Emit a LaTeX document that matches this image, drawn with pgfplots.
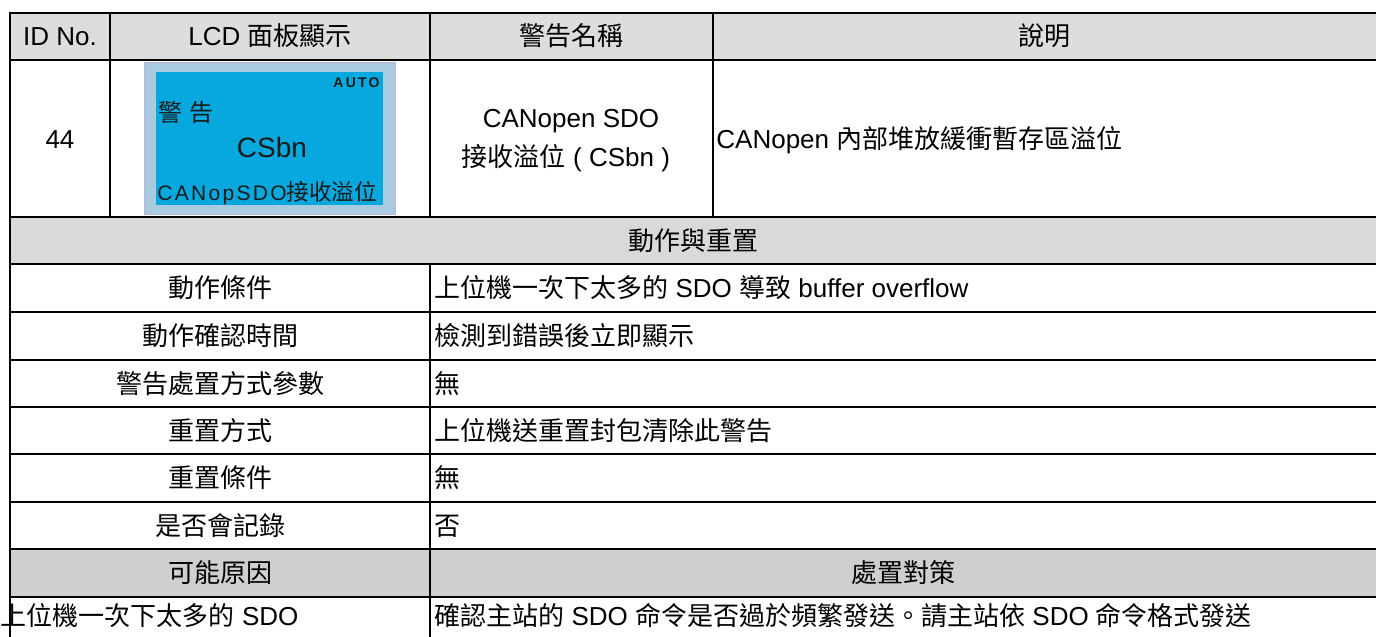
\documentclass[border=0pt]{standalone}
\usepackage{fontspec}
\setmainfont{Liberation Sans}
\newfontfamily\cjk{Noto Sans CJK TC}
\newfontfamily\lcdlat[LetterSpace=11]{Liberation Sans}
\newfontfamily\autofont[LetterSpace=16]{Liberation Sans Bold}
\usepackage{pgfplots}
\pgfplotsset{compat=1.18}
\definecolor{hdrgray}{HTML}{DDDDDD}
\definecolor{secgray}{HTML}{D9D9D9}
\definecolor{causegray}{HTML}{D0CECE}
\definecolor{lcdouter}{HTML}{A8CBDF}
\definecolor{lcdedge}{HTML}{BCB4DE}
\definecolor{lcdinner}{HTML}{06A8DE}
\definecolor{lcdtext}{HTML}{1A1A1A}
\newcommand\C[1]{{\cjk #1}}
\begin{document}
\fontsize{13bp}{15bp}\selectfont
\begin{tikzpicture}
\begin{axis}[name=ax, hide axis, scale only axis, width=688bp, height=318.5bp,
  xmin=0, xmax=1376, ymin=0, ymax=637, y dir=reverse, clip=true]
\addplot[draw=none] coordinates {(0,0)};
% fills
\fill[hdrgray] (axis cs:10,13) rectangle (axis cs:1376,60);
\fill[secgray] (axis cs:10,217) rectangle (axis cs:1376,264);
\fill[causegray] (axis cs:10,549) rectangle (axis cs:1376,597);
% LCD panel
\filldraw[fill=lcdouter, draw=lcdedge, line width=0.5bp] (axis cs:144,63) rectangle (axis cs:395,214);
\fill[lcdinner] (axis cs:156,72) rectangle (axis cs:383,205);
% grid lines
\begin{scope}[line width=1bp, line cap=rect]
\draw (axis cs:10,13) -- (axis cs:1376,13);
\draw (axis cs:10,60) -- (axis cs:1376,60);
\draw (axis cs:10,217) -- (axis cs:1376,217);
\draw (axis cs:10,264) -- (axis cs:1376,264);
\draw (axis cs:10,312) -- (axis cs:1376,312);
\draw (axis cs:10,360) -- (axis cs:1376,360);
\draw (axis cs:10,407) -- (axis cs:1376,407);
\draw (axis cs:10,454) -- (axis cs:1376,454);
\draw (axis cs:10,502) -- (axis cs:1376,502);
\draw (axis cs:10,549) -- (axis cs:1376,549);
\draw (axis cs:10,597) -- (axis cs:1376,597);
\draw (axis cs:10,13) -- (axis cs:10,640);
\draw (axis cs:110,13) -- (axis cs:110,217);
\draw (axis cs:430,13) -- (axis cs:430,217);
\draw (axis cs:430,264) -- (axis cs:430,640);
\draw (axis cs:713,13) -- (axis cs:713,217);
\end{scope}
% header
\begin{scope}[every node/.style={inner sep=0pt, anchor=base}]
\node at (axis cs:60,46) {ID No.};
\node at (axis cs:270,46) {LCD \C{面板顯示}};
\node at (axis cs:571,46) {\C{警告名稱}};
\node at (axis cs:1044,46) {\C{說明}};
% row 44
\node at (axis cs:60,148) {44};
\node at (axis cs:571,127.5) {CANopen SDO};
\node at (axis cs:566,166.5) {\C{接收溢位} ( CSbn )};
\node[anchor=base west] at (axis cs:716,148) {CANopen \C{內部堆放緩衝暫存區溢位}};
% LCD texts
\node[anchor=base east, text=lcdtext] at (axis cs:380,87) {\fontsize{7bp}{8bp}\autofont AUTO};
\node[anchor=base west, text=lcdtext] at (axis cs:158,121) {\fontsize{12bp}{13bp}\cjk 警\hspace{3.5bp}告};
\node[text=lcdtext] at (axis cs:272,157) {\fontsize{14bp}{16bp}\selectfont CSbn};
\node[anchor=base west, text=lcdtext] at (axis cs:157,200.5) {\fontsize{10.5bp}{12bp}\lcdlat CANopSDO\fontsize{11.3bp}{12bp}\cjk 接收溢位};
% section
\node at (axis cs:693,250) {\C{動作與重置}};
% rows
\node at (axis cs:220,297.5) {\C{動作條件}};
\node[anchor=base west] at (axis cs:434,297.5) {\C{上位機一次下太多的} SDO \C{導致} buffer overflow};
\node at (axis cs:220,345.5) {\C{動作確認時間}};
\node[anchor=base west] at (axis cs:434,345.5) {\C{檢測到錯誤後立即顯示}};
\node at (axis cs:220,393) {\C{警告處置方式參數}};
\node[anchor=base west] at (axis cs:434,393) {\C{無}};
\node at (axis cs:220,440.5) {\C{重置方式}};
\node[anchor=base west] at (axis cs:434,440.5) {\C{上位機送重置封包清除此警告}};
\node at (axis cs:220,487.5) {\C{重置條件}};
\node[anchor=base west] at (axis cs:434,487.5) {\C{無}};
\node at (axis cs:220,535) {\C{是否會記錄}};
\node[anchor=base west] at (axis cs:434,535) {\C{否}};
\node at (axis cs:220,582.5) {\C{可能原因}};
\node at (axis cs:903,582.5) {\C{處置對策}};
\node[anchor=base west] at (axis cs:0.5,625.5) {\C{上位機一次下太多的} SDO};
\node[anchor=base west] at (axis cs:434,625.5) {\C{確認主站的} SDO \C{命令是否過於頻繁發送。請主站依} SDO \C{命令格式發送}};
\end{scope}
\end{axis}
\pgfresetboundingbox
\path (ax.south west) rectangle (ax.north east);
\end{tikzpicture}
\end{document}
